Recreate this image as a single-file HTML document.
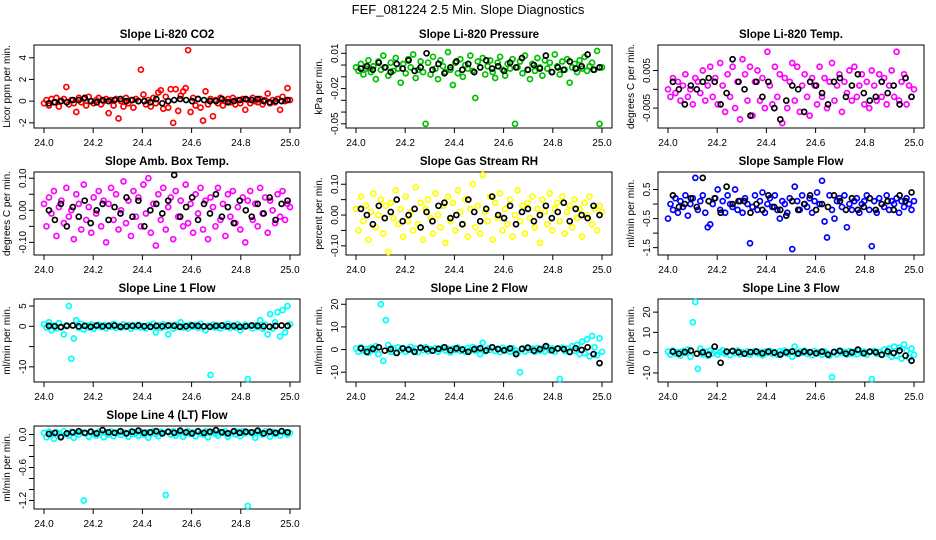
<!DOCTYPE html>
<html><head><meta charset="utf-8">
<style>
body{margin:0;background:#fff;}
svg{display:block;font-family:"Liberation Sans",sans-serif;}
</style></head>
<body>
<svg id="chart" width="936" height="540" viewBox="0 0 936 540" xmlns="http://www.w3.org/2000/svg">
<text x="468" y="14" text-anchor="middle" font-size="13">FEF_081224  2.5 Min. Slope Diagnostics</text>
</svg>
<script>
// ---- data ----
const xTicks = [24.0, 24.2, 24.4, 24.6, 24.8, 25.0];
const titles = ["Slope Li-820 CO2","Slope Li-820 Pressure","Slope Li-820 Temp.","Slope Amb. Box Temp.","Slope Gas Stream RH","Slope Sample Flow","Slope Line 1 Flow","Slope Line 2 Flow","Slope Line 3 Flow","Slope Line 4 (LT) Flow"];
const yLabels = ["Licor ppm per min.","kPa per min.","degrees C per min.","degrees C per min.","percent per min.","ml/min per min.","ml/min per min.","ml/min per min.","ml/min per min.","ml/min per min."];
const colors = ["#ff0000","#00c000","#ff00ff","#ff00ff","#ffff00","#0000ff","#00ffff","#00ffff","#00ffff","#00ffff"];
const yRanges = [[-2.2,4.9],[-0.051,0.0145],[-0.0095,0.011],[-0.13,0.11],[-0.12,0.13],[-1.65,1.0],[-13,6],[-13,21],[-13,25],[-1.3,0.1]];
const yTickVals = [[-2,0,2,4],[-0.05,-0.04,-0.03,-0.02,-0.01,0,0.01],[-0.005,0,0.005],[-0.10,-0.05,0,0.05,0.10],[-0.10,-0.05,0,0.05,0.10],[-1.5,-1,-0.5,0,0.5],[-10,-5,0,5],[-10,0,10,20],[-10,0,10,20],[-1.2,-1.0,-0.8,-0.6,-0.4,-0.2,0]];
const yTickLabels = [["-2","0","2","4"],["-0.05","","","-0.02","","","0.01"],["-0.005","","0.005"],["-0.10","","0.00","","0.10"],["-0.10","","0.00","","0.10"],["-1.5","","-0.5","","0.5"],["-10","","0","5"],["-10","0","10","20"],["-10","0","10","20"],["-1.2","","","-0.6","","","0.0"]];

const co2 = [-0.2,0.1,-0.4,0.2,-0.1,0.3,-0.5,0.0,0.2,1.3,-0.3,0.1,-0.2,-1.0,0.3,-0.1,0.2,-0.4,0.4,0.0,-0.2,0.1,0.3,-0.3,0.0,0.2,-1.1,0.1,-0.4,0.2,-1.6,0.0,-0.5,0.3,-0.2,0.1,-0.6,0.2,0.0,2.9,0.6,-0.3,0.1,-0.5,0.3,-0.2,0.8,1.0,-0.7,0.4,-0.6,1.1,-2.0,1.1,-0.9,0.5,0.9,1.2,4.7,-1.0,0.3,-0.4,0.2,-0.6,-1.8,0.9,-0.3,0.2,-1.4,0.1,-0.2,0.3,-0.4,0.0,0.2,-0.1,0.3,-0.3,0.1,-0.2,0.2,-0.8,0.1,-0.2,0.3,0.0,-0.1,0.2,-0.3,0.1,0.7,-0.2,0.1,-0.1,0.2,-0.8,0.4,0.0,1.2,0.1];
const co2B = [-0.2,-0.1,0.0,-0.1,0.1,0.1,0.3,0.0,-0.1,0.1,0.0,0.1,0.2,0.0,0.1,0.0,0.0,-0.1,0.2,-0.2,0.0,0.1,0.2,0.1,0.0,0.2,0.1,0.0,0.0,0.2,-0.1,0.0,0.1,0.2,0.1,0.2,0.0,-0.1,0.0,0.0,0.1];
const pres = [-0.002,-0.005,0.001,-0.008,-0.003,0.004,-0.006,-0.001,-0.012,0.003,-0.004,0.008,-0.002,-0.009,0.002,-0.005,0.006,-0.003,-0.015,0.001,-0.007,0.005,-0.002,0.009,-0.011,-0.004,0.003,-0.006,-0.05,0.002,-0.008,0.007,-0.003,-0.012,0.004,-0.001,-0.006,0.011,-0.004,-0.017,0.002,-0.007,0.005,-0.01,0.0,-0.003,0.008,-0.005,-0.028,0.003,-0.002,0.006,-0.008,-0.001,0.004,-0.006,-0.011,0.002,0.007,-0.004,-0.009,0.001,-0.003,0.005,-0.05,-0.002,0.003,-0.007,0.008,-0.004,-0.012,0.001,-0.005,0.006,-0.002,-0.009,0.004,-0.003,0.002,-0.006,0.009,-0.001,-0.008,0.003,-0.004,0.005,-0.015,-0.002,0.001,-0.006,0.004,-0.003,0.007,-0.005,-0.001,0.002,-0.004,0.012,-0.05,-0.002];
const presB = [-0.003,-0.001,-0.004,0.002,-0.002,-0.006,0.001,-0.003,0.004,-0.005,-0.002,0.010,-0.004,0.001,-0.007,-0.002,0.003,-0.004,0.001,-0.006,-0.002,0.004,-0.003,-0.001,-0.005,0.002,-0.002,0.006,-0.004,0.000,-0.003,0.008,-0.006,-0.002,-0.004,0.003,-0.003,-0.001,0.009,-0.004,-0.002];
const temp = [0.000,-0.002,0.003,-0.001,0.002,-0.003,0.001,0.004,-0.002,0.000,-0.004,0.003,0.002,-0.001,0.005,-0.003,0.001,0.006,-0.002,0.003,-0.004,0.007,0.001,-0.006,0.004,-0.002,0.006,-0.005,0.002,-0.008,0.008,0.004,-0.003,0.006,-0.007,0.002,0.005,-0.003,0.003,-0.005,0.010,0.001,-0.004,0.006,-0.002,0.004,-0.009,0.003,-0.005,0.002,0.007,-0.003,0.006,-0.006,0.001,0.004,-0.002,-0.007,0.003,0.001,-0.004,0.006,-0.002,0.003,-0.005,0.002,0.007,-0.003,0.001,0.004,-0.006,0.002,-0.001,0.005,-0.003,0.006,-0.002,0.001,0.004,-0.004,0.002,-0.005,0.005,0.001,-0.003,0.004,-0.002,0.003,-0.004,0.001,0.005,-0.002,0.010,-0.003,0.002,0.004,-0.004,0.001,-0.002,0.000];
const tempB = [0.002,0.000,-0.004,0.001,0.000,0.002,0.003,0.002,-0.004,-0.001,0.008,0.002,0.000,-0.007,0.002,-0.002,0.002,-0.005,-0.008,-0.003,0.001,0.000,-0.006,0.002,0.001,-0.001,-0.004,0.002,0.003,-0.002,0.001,0.004,-0.001,-0.003,-0.002,0.002,-0.001,0.001,-0.004,0.003,-0.002];
const amb = [0.02,-0.05,0.04,-0.01,0.06,-0.08,0.01,0.03,-0.04,0.07,-0.02,0.00,-0.09,0.05,0.02,-0.06,0.08,-0.03,0.01,-0.07,0.04,-0.01,0.06,-0.05,0.03,-0.10,0.02,0.07,-0.03,0.05,-0.06,0.00,0.09,-0.04,0.03,-0.08,0.06,-0.02,0.04,-0.05,0.08,-0.01,0.10,-0.07,0.02,-0.11,0.05,-0.03,0.07,-0.06,0.01,0.04,-0.09,0.06,-0.02,0.03,-0.05,0.08,-0.04,0.02,-0.07,0.05,-0.01,0.07,-0.06,0.03,-0.09,0.04,0.01,-0.05,0.07,-0.03,0.02,-0.08,0.05,-0.02,0.06,-0.04,0.01,-0.06,0.04,-0.10,0.03,0.06,-0.03,0.02,-0.05,0.07,-0.01,0.04,-0.07,0.03,0.00,-0.04,0.05,-0.02,0.06,-0.03,0.02,0.01];
const ambB = [0.00,-0.03,0.02,-0.05,0.01,-0.02,0.03,-0.04,0.00,0.02,-0.03,0.01,-0.01,0.04,-0.02,0.03,-0.05,0.00,0.02,-0.01,0.03,0.11,-0.02,0.01,0.04,-0.03,0.02,-0.01,0.05,-0.02,0.01,-0.04,0.03,0.00,-0.02,0.02,-0.01,0.04,-0.03,0.02,0.03];
const rh = [0.02,-0.05,0.06,-0.02,0.03,-0.08,0.01,0.07,-0.04,0.00,0.05,-0.06,0.03,-0.12,0.04,-0.01,0.08,-0.03,0.02,-0.07,0.06,-0.02,0.01,-0.05,0.09,-0.03,0.04,-0.08,0.02,0.05,-0.01,-0.06,0.07,0.00,-0.04,0.03,-0.09,0.06,-0.02,0.04,-0.05,0.08,0.01,-0.03,0.05,-0.07,0.02,0.10,-0.04,0.03,-0.06,0.13,0.01,-0.02,0.06,-0.08,0.04,-0.01,0.07,-0.05,0.02,-0.03,0.05,-0.07,0.00,0.08,-0.02,0.03,-0.06,0.04,-0.01,0.06,-0.04,0.02,-0.09,0.05,0.01,-0.03,0.07,-0.05,0.02,0.04,-0.02,0.06,-0.06,0.01,0.03,-0.04,0.05,-0.01,0.02,-0.07,0.04,0.00,0.06,-0.03,0.02,-0.05,0.03,0.01];
const rhB = [0.02,0.00,-0.03,0.03,-0.01,0.01,0.05,-0.02,0.00,0.02,-0.04,0.01,-0.02,0.03,0.04,-0.01,0.00,-0.03,0.05,0.01,-0.02,0.02,0.06,0.00,-0.01,0.03,-0.03,0.01,0.02,-0.02,0.00,0.03,-0.01,0.01,0.04,-0.02,0.02,0.00,-0.01,0.03,0.00];
const samp = [-0.5,0.0,-0.2,0.2,-0.3,0.1,-0.1,0.3,-0.4,0.0,0.2,0.9,-0.2,0.1,0.3,-0.3,-0.8,-0.7,0.0,0.2,0.5,-0.2,0.1,-0.3,0.3,0.0,-0.1,0.5,-0.2,0.1,-0.3,0.2,0.0,-1.35,-0.1,0.3,-0.2,0.1,0.4,-0.3,0.0,0.2,-0.1,0.3,-0.2,-0.5,0.1,0.0,-0.3,0.2,-1.55,0.6,0.1,-0.2,0.3,0.0,-0.1,0.2,-0.3,0.1,0.4,0.0,0.8,-0.6,-1.15,0.3,-0.2,-0.5,0.1,0.2,-0.1,0.3,-0.8,0.0,-0.2,0.1,0.2,-0.3,0.0,0.1,0.3,-0.2,-1.45,0.1,-0.3,0.2,0.0,-0.1,0.3,-0.2,0.1,0.0,0.2,-0.3,0.1,-0.1,0.2,0.0,-0.2,0.1];
const sampB = [0.3,-0.1,0.0,0.2,-0.1,0.9,0.1,0.2,-0.3,0.6,0.0,0.1,0.1,-0.3,0.0,-0.2,0.3,-0.1,-0.2,-0.4,0.1,-0.2,0.0,0.3,-0.2,0.0,-0.1,0.3,0.1,-0.2,0.2,-0.2,-0.1,0.2,-0.2,0.0,0.1,-0.2,0.3,0.1,0.4];
const l1 = [0.5,-0.3,1.0,-1.0,0.2,-0.5,0.8,-0.2,-2.0,0.3,5.0,-8.0,-3.0,1.5,-0.4,0.6,-0.8,0.2,-0.3,0.5,-0.6,0.1,0.4,-0.2,0.3,-0.5,0.2,-0.1,0.6,-0.4,0.1,-0.3,0.5,-0.2,0.3,-0.6,0.2,-0.1,0.4,-0.3,0.1,-0.5,0.3,-0.2,0.6,-1.5,0.2,-0.4,0.5,-0.1,-2.0,0.3,-0.6,0.4,-0.2,1.0,-0.3,0.2,-0.5,0.4,-0.1,0.3,-0.4,0.6,-0.2,-1.0,0.1,-12.0,0.4,-0.3,0.2,-0.5,0.3,-0.1,0.6,-0.4,0.2,-0.3,0.5,-1.0,-0.2,0.4,-13.0,0.1,-0.5,0.3,-0.2,1.5,-0.6,0.4,-2.0,3.0,-0.5,1.0,3.5,-2.5,4.0,-1.5,5.0,0.5];
const l1B = [0.1,0.0,-0.2,0.1,0.2,0.0,0.1,-0.1,0.2,0.0,0.1,0.2,-0.1,0.0,0.1,0.2,0.0,-0.1,0.1,0.0,0.2,0.1,-0.1,0.0,0.2,0.1,0.0,-0.1,0.1,0.2,0.0,0.1,-0.1,0.0,0.2,0.1,0.0,-0.1,0.1,0.2,0.1];
const l2 = [0.5,-1.0,1.0,-0.5,0.3,-1.5,0.8,-0.2,1.5,-2.0,20.0,-5.0,13.0,2.0,-1.0,0.5,-1.5,1.0,-0.3,0.6,-1.0,0.2,1.2,-0.5,0.4,-1.2,0.7,-0.2,1.0,-0.8,0.3,-0.5,0.6,-1.0,0.2,0.8,-0.4,0.3,-1.3,0.5,-0.2,0.9,-0.6,0.2,-1.0,0.7,-0.3,1.1,-0.5,0.4,-2.0,3.0,-0.8,0.5,-0.2,1.0,-0.6,0.3,-1.2,0.8,-0.4,0.2,-1.0,0.6,-0.3,-1.5,-10.0,0.5,-0.8,1.0,-0.2,0.4,-1.0,0.7,-0.5,0.3,-0.8,1.2,-0.3,0.5,-1.0,0.2,-13.0,0.8,-0.6,0.4,-1.2,1.5,-0.5,2.0,-2.0,3.5,-1.5,4.5,-3.0,6.0,1.0,-2.5,5.0,-1.0];
const l2B = [0.5,-1.0,0.3,1.0,-0.5,0.2,-1.5,0.5,0.0,-1.0,0.8,0.2,-0.5,0.3,1.0,-0.3,0.5,0.0,-1.0,0.2,0.6,-0.4,1.0,0.2,-0.3,0.5,-2.0,0.3,0.8,-0.5,0.2,1.5,-0.3,0.5,0.2,-1.0,0.6,-0.2,1.0,-2.0,-6.0];
const l3 = [0.5,-1.0,1.0,-0.5,0.3,-1.5,0.8,-0.2,1.5,-2.0,15.0,25.0,-8.0,2.0,-1.0,0.5,-1.5,1.0,-0.3,0.6,-1.0,0.2,1.2,-0.5,0.4,-1.2,0.7,-0.2,1.0,-0.8,0.3,-0.5,0.6,-1.0,0.2,0.8,-0.4,0.3,-1.3,0.5,-0.2,0.9,-0.6,0.2,-1.0,0.7,-0.3,1.1,-0.5,0.4,-2.0,3.0,-0.8,0.5,-0.2,1.0,-0.6,0.3,-1.2,0.8,-0.4,0.2,-1.0,0.6,-0.3,-1.5,-12.0,0.5,-0.8,1.0,-0.2,0.4,-1.0,0.7,-0.5,0.3,-0.8,1.2,-0.3,0.5,-1.0,0.2,-13.0,0.8,-0.6,0.4,-1.2,1.5,-0.5,2.0,-2.0,3.0,-1.5,2.5,-3.0,4.0,1.0,-2.5,2.0,-1.0];
const l3B = [0.5,-0.5,0.3,1.0,-0.5,0.2,-1.0,3.0,-5.0,0.5,0.8,0.2,-0.5,0.3,0.5,-0.3,0.5,0.0,-1.0,0.2,0.6,-0.4,0.5,0.2,-0.3,0.5,-1.0,0.3,0.8,-0.5,0.2,1.5,-0.3,0.5,0.2,-1.0,0.6,-0.2,1.0,-1.5,-4.0];
const l4 = [0.03,-0.05,0.05,0.00,-0.08,0.04,0.02,-0.03,0.06,0.01,-0.02,0.05,-0.06,0.03,0.00,0.04,-1.20,0.02,-0.04,0.06,0.01,-0.02,0.05,0.03,-0.05,0.04,0.00,0.06,-0.03,0.02,0.05,-0.01,0.04,0.02,-0.04,0.06,0.01,0.03,-0.02,0.05,0.00,0.04,-0.06,0.02,0.06,0.01,-0.03,0.05,0.03,-1.10,0.04,0.00,0.06,-0.02,0.03,0.05,-0.04,0.02,0.06,0.01,0.04,-0.03,0.05,0.02,0.00,0.06,-0.05,0.03,0.04,0.01,-0.02,0.05,0.03,0.06,-0.04,0.02,0.04,0.00,0.05,-0.03,0.06,0.02,-1.30,0.04,0.01,-0.06,0.05,0.03,0.00,0.06,0.02,-0.04,0.05,0.01,0.03,-0.02,0.06,0.04,0.00,0.03];
const l4B = [0.01,0.03,-0.05,0.02,0.04,0.06,0.03,0.05,0.02,0.08,0.04,0.03,0.06,0.02,0.05,0.07,0.03,0.04,0.06,0.02,0.05,0.03,0.07,0.04,0.02,0.06,0.03,0.05,0.08,0.04,0.02,0.06,0.03,0.05,0.04,0.07,0.02,0.05,0.03,0.06,0.04];
const colored = [co2,pres,temp,amb,rh,samp,l1,l2,l3,l4];
const blacks = [co2B,presB,tempB,ambB,rhB,sampB,l1B,l2B,l3B,l4B];

// ---- layout ----
const NS = "http://www.w3.org/2000/svg";
const svg = document.getElementById("chart");
const colLeft = [34, 346, 658], boxW = 266, rowTop = [45, 172, 299, 426], boxH = 83;
function mk(tag, attrs, parent){ const e=document.createElementNS(NS,tag); for(const k in attrs) e.setAttribute(k,attrs[k]); (parent||svg).appendChild(e); return e; }

for (let p = 0; p < 10; p++) {
  const L = colLeft[p%3], T = rowTop[Math.floor(p/3)];
  const g = mk("g", {});
  
  
  const [y0,y1] = yRanges[p];
  const xs = v => L + 10 + (v - 24) * (boxW - 20);
  const ys = v => T + boxH - 3 - (v - y0) / (y1 - y0) * (boxH - 6);

  const box = mk("rect", {x:L, y:T, width:boxW, height:boxH, fill:"none", stroke:"#000", "stroke-width":1}, g);
  
  

  const t = mk("text", {x:L+boxW/2, y:T-7, "text-anchor":"middle", "font-size":"11.5", "font-weight":"bold"}, g);
  t.textContent = titles[p];
  
  

  const xa = mk("g", {}, g);
  
  
  mk("line", {x1:xs(xTicks[0]), x2:xs(xTicks[xTicks.length-1]), y1:T+boxH, y2:T+boxH, stroke:"#000"}, xa);
  xTicks.forEach(v => {
    mk("line", {x1:xs(v), x2:xs(v), y1:T+boxH, y2:T+boxH+5, stroke:"#000"}, xa);
    const tx = mk("text", {x:xs(v), y:T+boxH+18, "text-anchor":"middle", "font-size":"10"}, xa);
    tx.textContent = v.toFixed(1);
    
    
  });

  const ya = mk("g", {}, g);
  
  
  const tv = yTickVals[p];
  mk("line", {x1:L, x2:L, y1:ys(tv[0]), y2:ys(tv[tv.length-1]), stroke:"#000"}, ya);
  tv.forEach((v,i) => {
    mk("line", {x1:L-5, x2:L, y1:ys(v), y2:ys(v), stroke:"#000"}, ya);
    const lab = yTickLabels[p][i];
    if (lab) {
      const ty = mk("text", {x:L-8, y:ys(v), "text-anchor":"middle", "font-size":"10", transform:`rotate(-90 ${L-8} ${ys(v)})`}, ya);
      ty.textContent = lab;
      
      
    }
  });
  const yl = mk("text", {x:L-24, y:T+boxH/2, "text-anchor":"middle", "font-size":"10", transform:`rotate(-90 ${L-24} ${T+boxH/2})`}, g);
  yl.textContent = yLabels[p];
  
  

  const sc = mk("g", {fill:"none", stroke:colors[p], "stroke-width":1.7}, g);
  
  
  const cv = colored[p];
  cv.forEach((v,i) => {
    const c = mk("circle", {cx:xs(24 + i/(cv.length-1)), cy:ys(v), r:2.5}, sc);
    
    
  });
  const sb = mk("g", {fill:"none", stroke:"#000", "stroke-width":1.7}, g);
  
  
  const bv = blacks[p];
  bv.forEach((v,i) => {
    const c = mk("circle", {cx:xs(24.02 + 0.97*i/(bv.length-1)), cy:ys(v), r:2.5}, sb);
    
    
  });
}
</script>
</body></html>
